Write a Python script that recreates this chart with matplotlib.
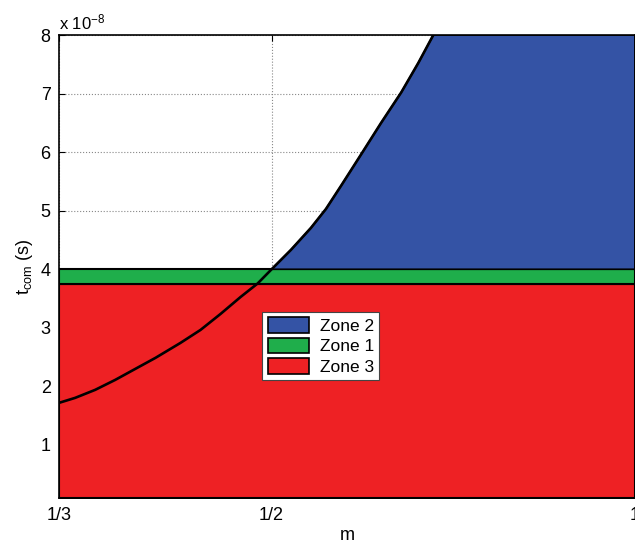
import numpy as np
import matplotlib
matplotlib.use('Agg')
import matplotlib.pyplot as plt
from matplotlib.patches import Patch

plt.rcParams['font.family'] = ['Liberation Sans', 'DejaVu Sans']
plt.rcParams['mathtext.fontset'] = 'custom'
plt.rcParams['mathtext.rm'] = 'Liberation Sans'
plt.rcParams['mathtext.it'] = 'Liberation Sans:italic'

# boundary curve (t in units of 1e-8 s)
curve_m = [0.3333, 0.3437, 0.3571, 0.3710, 0.3855, 0.4006, 0.4202, 0.4366,
           0.4536, 0.4713, 0.4869, 0.5000, 0.5187, 0.5389, 0.5546, 0.5707,
           0.5930, 0.6161, 0.6402, 0.6614, 0.6806]
curve_t = [1.718, 1.803, 1.940, 2.110, 2.298, 2.486, 2.742, 2.964,
           3.237, 3.527, 3.758, 4.000, 4.330, 4.706, 5.030, 5.423,
           5.960, 6.500, 7.020, 7.523, 8.000]

zone3_top = 3.75   # red band upper edge
zone1_top = 4.0    # green band upper edge
t_min, t_max = 0.1, 8.0
m_min, m_max = 1/3, 1.0

xtick_vals = [1/3, 1/2, 1]
xtick_labels = ['1/3', '1/2', '1']
ytick_vals = [1, 2, 3, 4, 5, 6, 7, 8]

blue = '#3453A5'
green = '#1FAE4B'
red = '#EE2124'

fig = plt.figure(figsize=(6.35, 5.48), dpi=100)
ax = fig.add_axes([0.093, 0.092, 0.907, 0.844])

# zone 3 (red) and zone 1 (green) bands
ax.fill_between([m_min, m_max], t_min, zone3_top, facecolor=red,
                edgecolor='black', linewidth=1.5, zorder=2)
ax.fill_between([m_min, m_max], zone3_top, zone1_top, facecolor=green,
                edgecolor='black', linewidth=1.5, zorder=2)

# zone 2 (blue): above green band, right of the curve
bm = [m for m, t in zip(curve_m, curve_t) if t >= zone1_top]
bt = [t for t in curve_t if t >= zone1_top]
ax.fill(bm + [m_max, m_max], bt + [t_max, zone1_top], facecolor=blue,
        edgecolor='black', linewidth=1.2, zorder=2)

ax.plot(curve_m, curve_t, color='black', linewidth=1.9, zorder=3)

ax.set_xscale('log')
ax.set_xlim(m_min, m_max)
ax.set_ylim(t_min, t_max)
ax.set_xticks(xtick_vals)
ax.set_xticklabels(xtick_labels)
ax.xaxis.set_minor_locator(matplotlib.ticker.NullLocator())
ax.set_yticks(ytick_vals)
ax.tick_params(direction='in', top=True, right=True, labelsize=13,
               length=4, pad=7)
ax.tick_params(axis='y', pad=6)
ax.grid(True, color='#888888', linestyle=':', linewidth=0.8)
ax.set_axisbelow(True)
for s in ax.spines.values():
    s.set_linewidth(1.2)
    s.set_zorder(4)

ax.set_xlabel('m', fontsize=13, labelpad=2)
ax.set_ylabel(r'$\mathregular{t_{com}}$ (s)', fontsize=13, labelpad=4)
ax.text(0.0, 1.005, r'x 10$^{-8}$', transform=ax.transAxes, fontsize=12,
        ha='left', va='bottom')

handles = [Patch(facecolor=blue, edgecolor='black', linewidth=1.2, label='Zone 2'),
           Patch(facecolor=green, edgecolor='black', linewidth=1.2, label='Zone 1'),
           Patch(facecolor=red, edgecolor='black', linewidth=1.2, label='Zone 3')]
leg = ax.legend(handles=handles, loc='lower left', bbox_to_anchor=(0.338, 0.235),
                fontsize=12.5, fancybox=False, framealpha=1, edgecolor='#444444',
                handlelength=2.4, handleheight=1.0, labelspacing=0.22,
                borderpad=0.3, handletextpad=0.6)
leg.get_frame().set_linewidth(0.8)
leg.set_zorder(5)

fig.savefig('out.png', dpi=100)
